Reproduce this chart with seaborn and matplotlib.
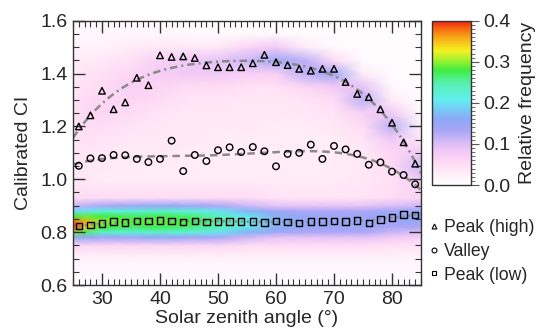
import numpy as np
import pandas as pd
import matplotlib
matplotlib.use("Agg")
import matplotlib.pyplot as plt
import seaborn as sns
from matplotlib.colors import LinearSegmentedColormap
from matplotlib.ticker import MultipleLocator, FormatStrFormatter
from matplotlib.lines import Line2D

# Solar zenith angle bins (degrees)
zenith = [26, 28, 30, 32, 34, 36, 38, 40, 42, 44, 46, 48, 50, 52, 54,
          56, 58, 60, 62, 64, 66, 68, 70, 72, 74, 76, 78, 80, 82, 84]

# Histogram modes of calibrated CI per zenith bin
peak_high = [1.200, 1.242, 1.335, 1.265, 1.291, 1.384, 1.356, 1.469, 1.463, 1.465,
             1.459, 1.431, 1.424, 1.424, 1.424, 1.439, 1.471, 1.443, 1.432, 1.418,
             1.411, 1.418, 1.418, 1.368, 1.323, 1.311, 1.265, 1.214, 1.140, 1.059]
valley = [1.051, 1.079, 1.080, 1.092, 1.091, 1.077, 1.065, 1.077, 1.146, 1.031,
          1.092, 1.069, 1.110, 1.121, 1.103, 1.122, 1.106, 1.049, 1.096, 1.100,
          1.131, 1.077, 1.126, 1.113, 1.096, 1.055, 1.064, 1.029, 1.016, 0.981]
peak_low = [0.823, 0.827, 0.832, 0.841, 0.837, 0.842, 0.843, 0.845, 0.843, 0.838,
            0.843, 0.838, 0.841, 0.840, 0.840, 0.841, 0.836, 0.843, 0.838, 0.835,
            0.840, 0.840, 0.843, 0.840, 0.845, 0.835, 0.847, 0.855, 0.866, 0.864]

# Relative frequency of calibrated CI, one column per zenith angle node
grid_angles = [25, 27, 30, 35, 40, 45, 50, 55, 60, 65, 70, 75, 80, 85]
grid_ci = [0.60, 0.70, 0.75, 0.78, 0.80, 0.82, 0.84, 0.86, 0.88, 0.90, 0.93, 1.00,
           1.05, 1.10, 1.15, 1.20, 1.25, 1.30, 1.35, 1.40, 1.45, 1.50, 1.55, 1.60]
freq_by_angle = [
    [0.005, 0.02, 0.06, 0.16, 0.30, 0.40, 0.38, 0.28, 0.19, 0.11, 0.05, 0.035,
     0.035, 0.035, 0.04, 0.045, 0.045, 0.04, 0.035, 0.03, 0.03, 0.02, 0.015, 0.01],
    [0.005, 0.02, 0.06, 0.15, 0.27, 0.35, 0.36, 0.29, 0.20, 0.12, 0.05, 0.035,
     0.035, 0.04, 0.045, 0.05, 0.055, 0.05, 0.045, 0.04, 0.03, 0.02, 0.015, 0.01],
    [0.005, 0.02, 0.06, 0.14, 0.23, 0.28, 0.30, 0.28, 0.22, 0.13, 0.05, 0.03,
     0.035, 0.035, 0.04, 0.05, 0.06, 0.06, 0.05, 0.045, 0.035, 0.02, 0.015, 0.01],
    [0.005, 0.02, 0.06, 0.14, 0.22, 0.27, 0.285, 0.27, 0.22, 0.14, 0.05, 0.03,
     0.03, 0.035, 0.035, 0.04, 0.05, 0.06, 0.07, 0.06, 0.045, 0.03, 0.015, 0.01],
    [0.005, 0.02, 0.06, 0.15, 0.23, 0.275, 0.29, 0.275, 0.23, 0.15, 0.05, 0.03,
     0.03, 0.035, 0.035, 0.035, 0.04, 0.05, 0.06, 0.075, 0.07, 0.035, 0.015, 0.01],
    [0.005, 0.02, 0.06, 0.14, 0.22, 0.265, 0.28, 0.265, 0.22, 0.14, 0.05, 0.03,
     0.03, 0.03, 0.035, 0.035, 0.035, 0.04, 0.05, 0.08, 0.08, 0.035, 0.01, 0.005],
    [0.005, 0.02, 0.06, 0.13, 0.20, 0.24, 0.25, 0.24, 0.20, 0.13, 0.05, 0.03,
     0.03, 0.03, 0.03, 0.035, 0.035, 0.04, 0.05, 0.08, 0.09, 0.035, 0.01, 0.005],
    [0.005, 0.02, 0.05, 0.11, 0.17, 0.20, 0.21, 0.20, 0.17, 0.11, 0.05, 0.03,
     0.03, 0.03, 0.03, 0.035, 0.035, 0.035, 0.045, 0.07, 0.11, 0.06, 0.01, 0.005],
    [0.005, 0.02, 0.05, 0.09, 0.14, 0.165, 0.17, 0.165, 0.14, 0.09, 0.04, 0.03,
     0.03, 0.03, 0.03, 0.03, 0.035, 0.035, 0.045, 0.07, 0.14, 0.08, 0.01, 0.005],
    [0.005, 0.02, 0.05, 0.09, 0.13, 0.15, 0.155, 0.15, 0.13, 0.09, 0.04, 0.03,
     0.03, 0.03, 0.03, 0.03, 0.035, 0.04, 0.06, 0.12, 0.12, 0.03, 0.005, 0.005],
    [0.005, 0.02, 0.05, 0.09, 0.13, 0.145, 0.15, 0.145, 0.13, 0.09, 0.04, 0.03,
     0.03, 0.03, 0.03, 0.035, 0.04, 0.05, 0.08, 0.14, 0.05, 0.01, 0.005, 0.005],
    [0.005, 0.02, 0.05, 0.09, 0.13, 0.145, 0.15, 0.145, 0.13, 0.09, 0.04, 0.035,
     0.035, 0.035, 0.04, 0.05, 0.07, 0.12, 0.09, 0.03, 0.005, 0.005, 0.005, 0.005],
    [0.005, 0.02, 0.045, 0.08, 0.11, 0.13, 0.145, 0.15, 0.14, 0.10, 0.05, 0.045,
     0.05, 0.06, 0.08, 0.12, 0.08, 0.03, 0.01, 0.005, 0.005, 0.005, 0.005, 0.005],
    [0.005, 0.02, 0.045, 0.07, 0.10, 0.13, 0.15, 0.16, 0.15, 0.11, 0.06, 0.08,
     0.11, 0.08, 0.04, 0.02, 0.01, 0.005, 0.005, 0.005, 0.005, 0.005, 0.005, 0.005],
]

series_names = ["Peak (high)", "Valley", "Peak (low)"]
series_values = [peak_high, valley, peak_low]
series_markers = ["^", "o", "s"]
series_lines = [(0, (3, 1.6, 0.8, 1.6)), (0, (3, 2)), (0, (0.8, 1.6))]
fit_degree = [4, 4, 3]

sns.set_theme(style="ticks")
plt.rcParams["font.family"] = ["Liberation Sans", "DejaVu Sans"]
plt.rcParams["font.size"] = 14

fig = plt.figure(figsize=(5.44, 3.34), dpi=100)
ax = fig.add_axes([0.1342, 0.1467, 0.6397, 0.7913])
cax = fig.add_axes([0.7947, 0.4461, 0.0706, 0.4919])

freq_cmap = LinearSegmentedColormap.from_list("freq", [
    (0.00, "#ffffff"), (0.06, "#fff0f8"), (0.125, "#ffdcf4"), (0.19, "#f6ccf6"),
    (0.25, "#dcbef6"), (0.33, "#aaa6f6"), (0.40, "#8ca8f6"), (0.47, "#74d0f6"),
    (0.52, "#60f0ee"), (0.62, "#58f0b0"), (0.70, "#40ec40"), (0.76, "#a0f030"),
    (0.82, "#f4f020"), (0.90, "#f8a818"), (0.95, "#f86c10"), (1.00, "#f02010"),
])

X, Y = np.meshgrid(grid_angles, grid_ci)
Z = np.array(freq_by_angle).T
mesh = ax.pcolormesh(X, Y, Z, shading="gouraud", cmap=freq_cmap,
                     vmin=0, vmax=0.4, rasterized=True, zorder=0)

xs = np.linspace(25, 85, 300)
for name, vals, mk, ls, deg in zip(series_names, series_values, series_markers,
                                    series_lines, fit_degree):
    coef = np.polyfit(zenith, vals, deg)
    fit_df = pd.DataFrame({"angle": xs, "ci": np.polyval(coef, xs)})
    sns.lineplot(data=fit_df, x="angle", y="ci", ax=ax, color="#8a8a8a",
                 linewidth=1.8, linestyle=ls, zorder=2)
    pts = pd.DataFrame({"angle": zenith, "ci": vals})
    sns.scatterplot(data=pts, x="angle", y="ci", ax=ax, marker=mk, s=22,
                    facecolor="none", edgecolor="black", linewidth=1.0, zorder=3)

ax.set_xlim(25, 85)
ax.set_ylim(0.6, 1.6)
ax.set_xlabel("Solar zenith angle (°)", fontsize=14, labelpad=2)
ax.set_ylabel("Calibrated CI", fontsize=14, labelpad=6)
ax.xaxis.set_major_locator(MultipleLocator(10))
ax.xaxis.set_minor_locator(MultipleLocator(1))
ax.yaxis.set_major_locator(MultipleLocator(0.2))
ax.yaxis.set_minor_locator(MultipleLocator(0.05))
ax.yaxis.set_major_formatter(FormatStrFormatter("%.1f"))
ax.tick_params(which="both", direction="in", top=True, right=True,
               color="#333333", labelsize=14)
ax.tick_params(which="major", length=8.5, width=1.0, pad=4)
ax.tick_params(which="minor", length=4, width=0.8)
for sp in ax.spines.values():
    sp.set_color("#333333")
    sp.set_linewidth(1.0)

cb = fig.colorbar(mesh, cax=cax)
cb.set_ticks([0.0, 0.1, 0.2, 0.3, 0.4])
cb.ax.yaxis.set_major_formatter(FormatStrFormatter("%.1f"))
cb.ax.yaxis.set_minor_locator(MultipleLocator(0.01))
cb.ax.tick_params(which="both", direction="out", color="#555555", labelsize=14)
cb.ax.tick_params(which="major", length=6, width=0.8, pad=3)
cb.ax.tick_params(which="minor", length=3, width=0.6)
cb.outline.set_edgecolor("#333333")
cb.outline.set_linewidth(1.0)
cb.set_label("Relative frequency", fontsize=14, labelpad=6)

handles = [Line2D([], [], linestyle="none", marker=m, markersize=3.5,
                  markerfacecolor="none", markeredgecolor="black", markeredgewidth=0.8)
           for m in series_markers]
fig.legend(handles, series_names, loc="upper left", bbox_to_anchor=(0.776, 0.365),
           frameon=False, fontsize=12.7, handlelength=0.5, handletextpad=0.35,
           labelspacing=0.38, borderaxespad=0)

fig.savefig("out.png", dpi=100)
